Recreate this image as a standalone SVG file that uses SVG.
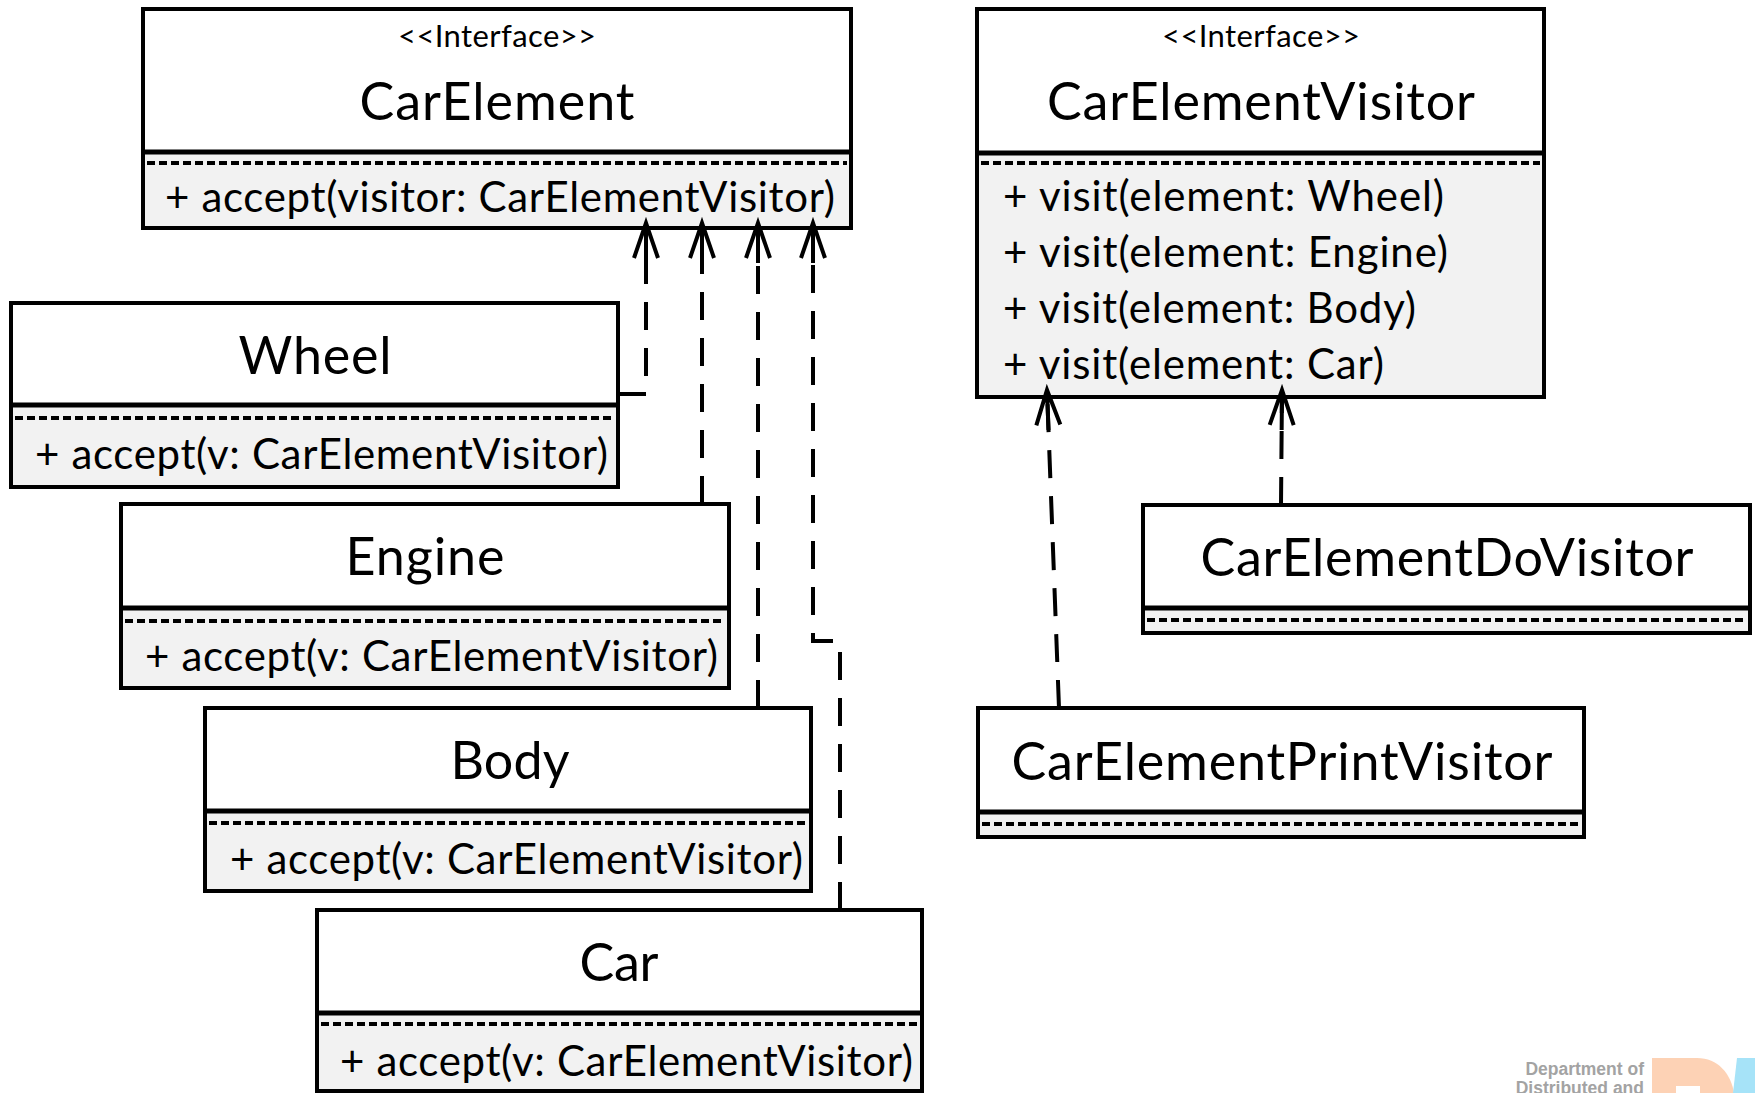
<svg xmlns="http://www.w3.org/2000/svg" width="1755" height="1093" viewBox="0 0 1755 1093">
  <style>
    .bg { fill: #ffffff; }
    .cp { fill: #f2f2f2; }
    .ol { fill: none; stroke: #000; stroke-width: 4; }
    .sep { stroke: #000; stroke-width: 5; }
    .dots { stroke: #000; stroke-width: 4; stroke-dasharray: 8 4; }
    text { font-family: Lato, "Liberation Sans", sans-serif; fill: #000; }
    .name { font-size: 52px; text-anchor: middle; }
    .stereo { font-size: 31px; text-anchor: middle; }
    .op { font-size: 42px; }
    .link { fill: none; stroke: #000; stroke-width: 4; stroke-dasharray: 28 18; }
    .mark { fill: #a3a3a3; font-family: "Liberation Sans", Arial, sans-serif; font-weight: bold; font-size: 17.5px; text-anchor: end; }
  </style>
  <defs>
    <marker id="open" markerUnits="userSpaceOnUse" markerWidth="44" markerHeight="30" viewBox="-40 -15 44 30" refX="0" refY="0" orient="auto" overflow="visible">
      <path d="M-35,-12 L0,0 L-35,12 M0,0 L-40,0" fill="none" stroke="#000" stroke-width="4" stroke-dasharray="none"/>
    </marker>
  </defs>

  <rect width="1755" height="1093" fill="#fff"/>

  <!-- interface CarElement -->
  <g id="car-element">
    <rect class="bg" x="143" y="9" width="708" height="219"/>
    <rect class="cp" x="143" y="152" width="708" height="76"/>
    <rect class="ol" x="143" y="9" width="708" height="219"/>
    <line class="sep" x1="143" y1="152" x2="851" y2="152"/>
    <line class="dots" x1="147" y1="163" x2="847" y2="163"/>
    <text class="stereo" x="497" y="47" textLength="198">&lt;&lt;Interface&gt;&gt;</text>
    <text class="name" x="497" y="120" textLength="275">CarElement</text>
    <text class="op" x="165" y="212" textLength="670">+ accept(visitor: CarElementVisitor)</text>
  </g>

  <!-- interface CarElementVisitor -->
  <g id="car-element-visitor">
    <rect class="bg" x="977" y="9" width="567" height="388"/>
    <rect class="cp" x="977" y="153" width="567" height="244"/>
    <rect class="ol" x="977" y="9" width="567" height="388"/>
    <line class="sep" x1="977" y1="153" x2="1544" y2="153"/>
    <line class="dots" x1="981" y1="163" x2="1540" y2="163"/>
    <text class="stereo" x="1261" y="47" textLength="198">&lt;&lt;Interface&gt;&gt;</text>
    <text class="name" x="1261" y="120" textLength="428">CarElementVisitor</text>
    <text class="op" x="1003" y="211" textLength="441">+ visit(element: Wheel)</text>
    <text class="op" x="1003" y="267" textLength="445">+ visit(element: Engine)</text>
    <text class="op" x="1003" y="323" textLength="413">+ visit(element: Body)</text>
    <text class="op" x="1003" y="379" textLength="381">+ visit(element: Car)</text>
  </g>

  <!-- Wheel -->
  <g id="wheel">
    <rect class="bg" x="11" y="303" width="607" height="184"/>
    <rect class="cp" x="11" y="405" width="607" height="82"/>
    <rect class="ol" x="11" y="303" width="607" height="184"/>
    <line class="sep" x1="11" y1="405" x2="618" y2="405"/>
    <line class="dots" x1="15" y1="418" x2="614" y2="418"/>
    <text class="name" x="315" y="374" textLength="153">Wheel</text>
    <text class="op" x="35" y="469" textLength="573">+ accept(v: CarElementVisitor)</text>
  </g>

  <!-- Engine -->
  <g id="engine">
    <rect class="bg" x="121" y="504" width="608" height="184"/>
    <rect class="cp" x="121" y="608" width="608" height="80"/>
    <rect class="ol" x="121" y="504" width="608" height="184"/>
    <line class="sep" x1="121" y1="608" x2="729" y2="608"/>
    <line class="dots" x1="125" y1="621" x2="725" y2="621"/>
    <text class="name" x="425" y="575" textLength="159">Engine</text>
    <text class="op" x="145" y="671" textLength="573">+ accept(v: CarElementVisitor)</text>
  </g>

  <!-- Body -->
  <g id="body">
    <rect class="bg" x="205" y="708" width="606" height="183"/>
    <rect class="cp" x="205" y="811" width="606" height="80"/>
    <rect class="ol" x="205" y="708" width="606" height="183"/>
    <line class="sep" x1="205" y1="811" x2="811" y2="811"/>
    <line class="dots" x1="209" y1="823" x2="807" y2="823"/>
    <text class="name" x="510" y="779" textLength="119">Body</text>
    <text class="op" x="230" y="874" textLength="573">+ accept(v: CarElementVisitor)</text>
  </g>

  <!-- Car -->
  <g id="car">
    <rect class="bg" x="317" y="910" width="605" height="181"/>
    <rect class="cp" x="317" y="1013" width="605" height="78"/>
    <rect class="ol" x="317" y="910" width="605" height="181"/>
    <line class="sep" x1="317" y1="1013" x2="922" y2="1013"/>
    <line class="dots" x1="321" y1="1024" x2="918" y2="1024"/>
    <text class="name" x="619" y="981" textLength="79">Car</text>
    <text class="op" x="340" y="1076" textLength="573">+ accept(v: CarElementVisitor)</text>
  </g>

  <!-- CarElementDoVisitor -->
  <g id="car-element-do-visitor">
    <rect class="bg" x="1143" y="505" width="607" height="128"/>
    <rect class="cp" x="1143" y="608" width="607" height="25"/>
    <rect class="ol" x="1143" y="505" width="607" height="128"/>
    <line class="sep" x1="1143" y1="608" x2="1750" y2="608"/>
    <line class="dots" x1="1147" y1="620" x2="1746" y2="620"/>
    <text class="name" x="1447" y="576" textLength="493">CarElementDoVisitor</text>
  </g>

  <!-- CarElementPrintVisitor -->
  <g id="car-element-print-visitor">
    <rect class="bg" x="978" y="708" width="606" height="129"/>
    <rect class="cp" x="978" y="812" width="606" height="25"/>
    <rect class="ol" x="978" y="708" width="606" height="129"/>
    <line class="sep" x1="978" y1="812" x2="1584" y2="812"/>
    <line class="dots" x1="982" y1="824" x2="1580" y2="824"/>
    <text class="name" x="1282" y="780" textLength="541">CarElementPrintVisitor</text>
  </g>

  <!-- realization connectors (dashed, open arrowhead) -->
  <g id="connectors">
    <path class="link" d="M618,394 H646 V223" marker-end="url(#open)"/>
    <path class="link" d="M702,504 V223" marker-end="url(#open)"/>
    <path class="link" d="M758,708 V223" marker-end="url(#open)"/>
    <path class="link" d="M840,910 V641 H813 V223" marker-end="url(#open)"/>
    <path class="link" d="M1059,708 L1047,390" marker-end="url(#open)"/>
    <path class="link" d="M1281,505 L1282,390" marker-end="url(#open)"/>
  </g>

  <!-- department logo, faded, partly outside the page -->
  <g id="logo">
    <path d="M1652,1058 H1697 C1718,1058 1731,1074 1734,1093 H1652 Z" fill="#fdd2b5"/>
    <path d="M1676,1086 H1700 V1093 H1676 Z" fill="#fff"/>
    <path d="M1737,1058 H1755 V1093 H1733 Z" fill="#a6e3f8"/>
    <text class="mark" x="1644" y="1075">Department of</text>
    <text class="mark" x="1644" y="1094">Distributed and</text>
  </g>
</svg>
